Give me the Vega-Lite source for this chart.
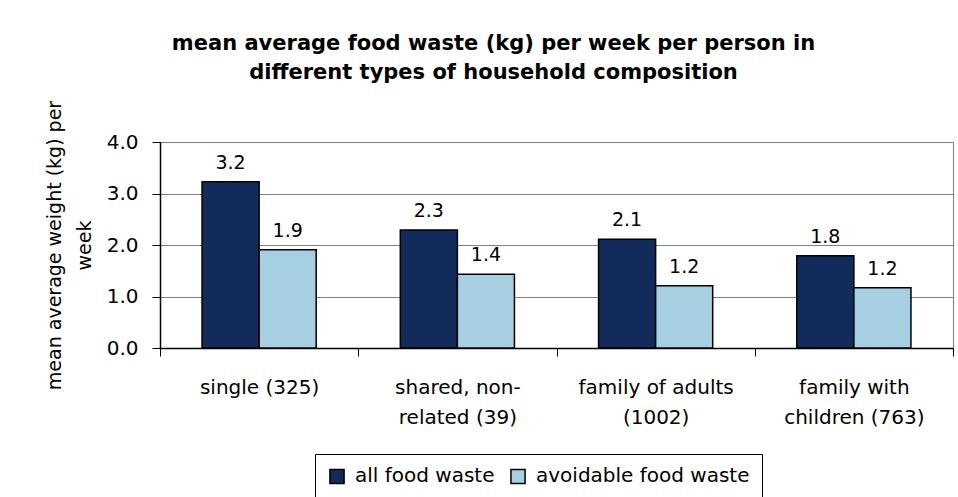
{
  "$schema": "https://vega.github.io/schema/vega-lite/v6.json",
  "autosize": {"type": "none"},
  "padding": {"left": 160, "top": 142, "right": 5, "bottom": 149},
  "width": 793,
  "height": 206,
  "background": "white",
  "title": {
    "text": ["mean average food waste (kg) per week per person in", "different types of household composition"],
    "font": "DejaVu Sans",
    "fontSize": 21,
    "fontWeight": "bold",
    "lineHeight": 29,
    "color": "black",
    "anchor": "middle",
    "frame": "group",
    "dx": -63,
    "dy": -13,
    "offset": 4
  },
  "data": {
    "values": [
      {"composition": "single (325)", "type": "all food waste", "kg": 3.23},
      {"composition": "single (325)", "type": "avoidable food waste", "kg": 1.91},
      {"composition": "shared, non-related (39)", "type": "all food waste", "kg": 2.29},
      {"composition": "shared, non-related (39)", "type": "avoidable food waste", "kg": 1.43},
      {"composition": "family of adults (1002)", "type": "all food waste", "kg": 2.11},
      {"composition": "family of adults (1002)", "type": "avoidable food waste", "kg": 1.21},
      {"composition": "family with children (763)", "type": "all food waste", "kg": 1.79},
      {"composition": "family with children (763)", "type": "avoidable food waste", "kg": 1.17}
    ]
  },
  "encoding": {
    "x": {
      "field": "composition",
      "type": "nominal",
      "sort": null,
      "scale": {"paddingInner": 0, "paddingOuter": 0},
      "axis": {
        "title": null,
        "labelAngle": 0,
        "labelFont": "DejaVu Sans",
        "labelFontSize": 20,
        "labelColor": "black",
        "labelLineHeight": 30,
        "labelPadding": 21,
        "labelBaseline": "top",
        "labelLimit": 0,
        "tickBand": "extent",
        "tickSize": 8,
        "tickColor": "black",
        "domainColor": "black",
        "domainWidth": 1.5,
        "grid": false,
        "labelExpr": "datum.value == 'shared, non-related (39)' ? ['shared, non-', 'related (39)'] : datum.value == 'family of adults (1002)' ? ['family of adults', '(1002)'] : datum.value == 'family with children (763)' ? ['family with', 'children (763)'] : datum.value"
      }
    },
    "xOffset": {
      "field": "type",
      "type": "nominal",
      "sort": null,
      "scale": {"paddingInner": 0, "paddingOuter": 0.737}
    },
    "y": {
      "field": "kg",
      "type": "quantitative",
      "scale": {"domain": [0, 4], "nice": false},
      "axis": {
        "values": [0, 1, 2, 3, 4],
        "format": ".1f",
        "title": ["mean average weight (kg) per", "week"],
        "titleFont": "DejaVu Sans",
        "titleFontSize": 19,
        "titleFontWeight": "normal",
        "titleColor": "black",
        "titleLineHeight": 30,
        "titlePadding": 12,
        "labelFont": "DejaVu Sans",
        "labelFontSize": 20,
        "labelColor": "black",
        "labelPadding": 14,
        "tickSize": 8,
        "tickColor": "black",
        "domainColor": "black",
        "domainWidth": 1.5,
        "gridColor": "#808080",
        "gridWidth": 1
      }
    }
  },
  "layer": [
    {
      "mark": {"type": "bar", "stroke": "black", "strokeWidth": 1.5},
      "encoding": {
        "color": {
          "field": "type",
          "type": "nominal",
          "sort": null,
          "scale": {"domain": ["all food waste", "avoidable food waste"], "range": ["#132B5B", "#A6CFE1"]},
          "legend": {
            "title": null,
            "orient": "none",
            "legendX": 155,
            "legendY": 312,
            "direction": "horizontal",
            "strokeColor": "black",
            "fillColor": "white",
            "padding": 12,
            "labelFont": "DejaVu Sans",
            "labelFontSize": 20,
            "labelColor": "black",
            "labelLimit": 0,
            "symbolType": "square",
            "symbolSize": 200,
            "symbolStrokeColor": "black",
            "symbolStrokeWidth": 1.5,
            "columnPadding": 12,
            "labelOffset": 8
          }
        }
      }
    },
    {
      "mark": {"type": "text", "baseline": "alphabetic", "dy": -13, "font": "DejaVu Sans", "fontSize": 19, "color": "black"},
      "encoding": {
        "text": {"field": "kg", "type": "quantitative", "format": ".1f"}
      }
    }
  ],
  "config": {
    "view": {"stroke": "#808080", "strokeWidth": 1}
  }
}
